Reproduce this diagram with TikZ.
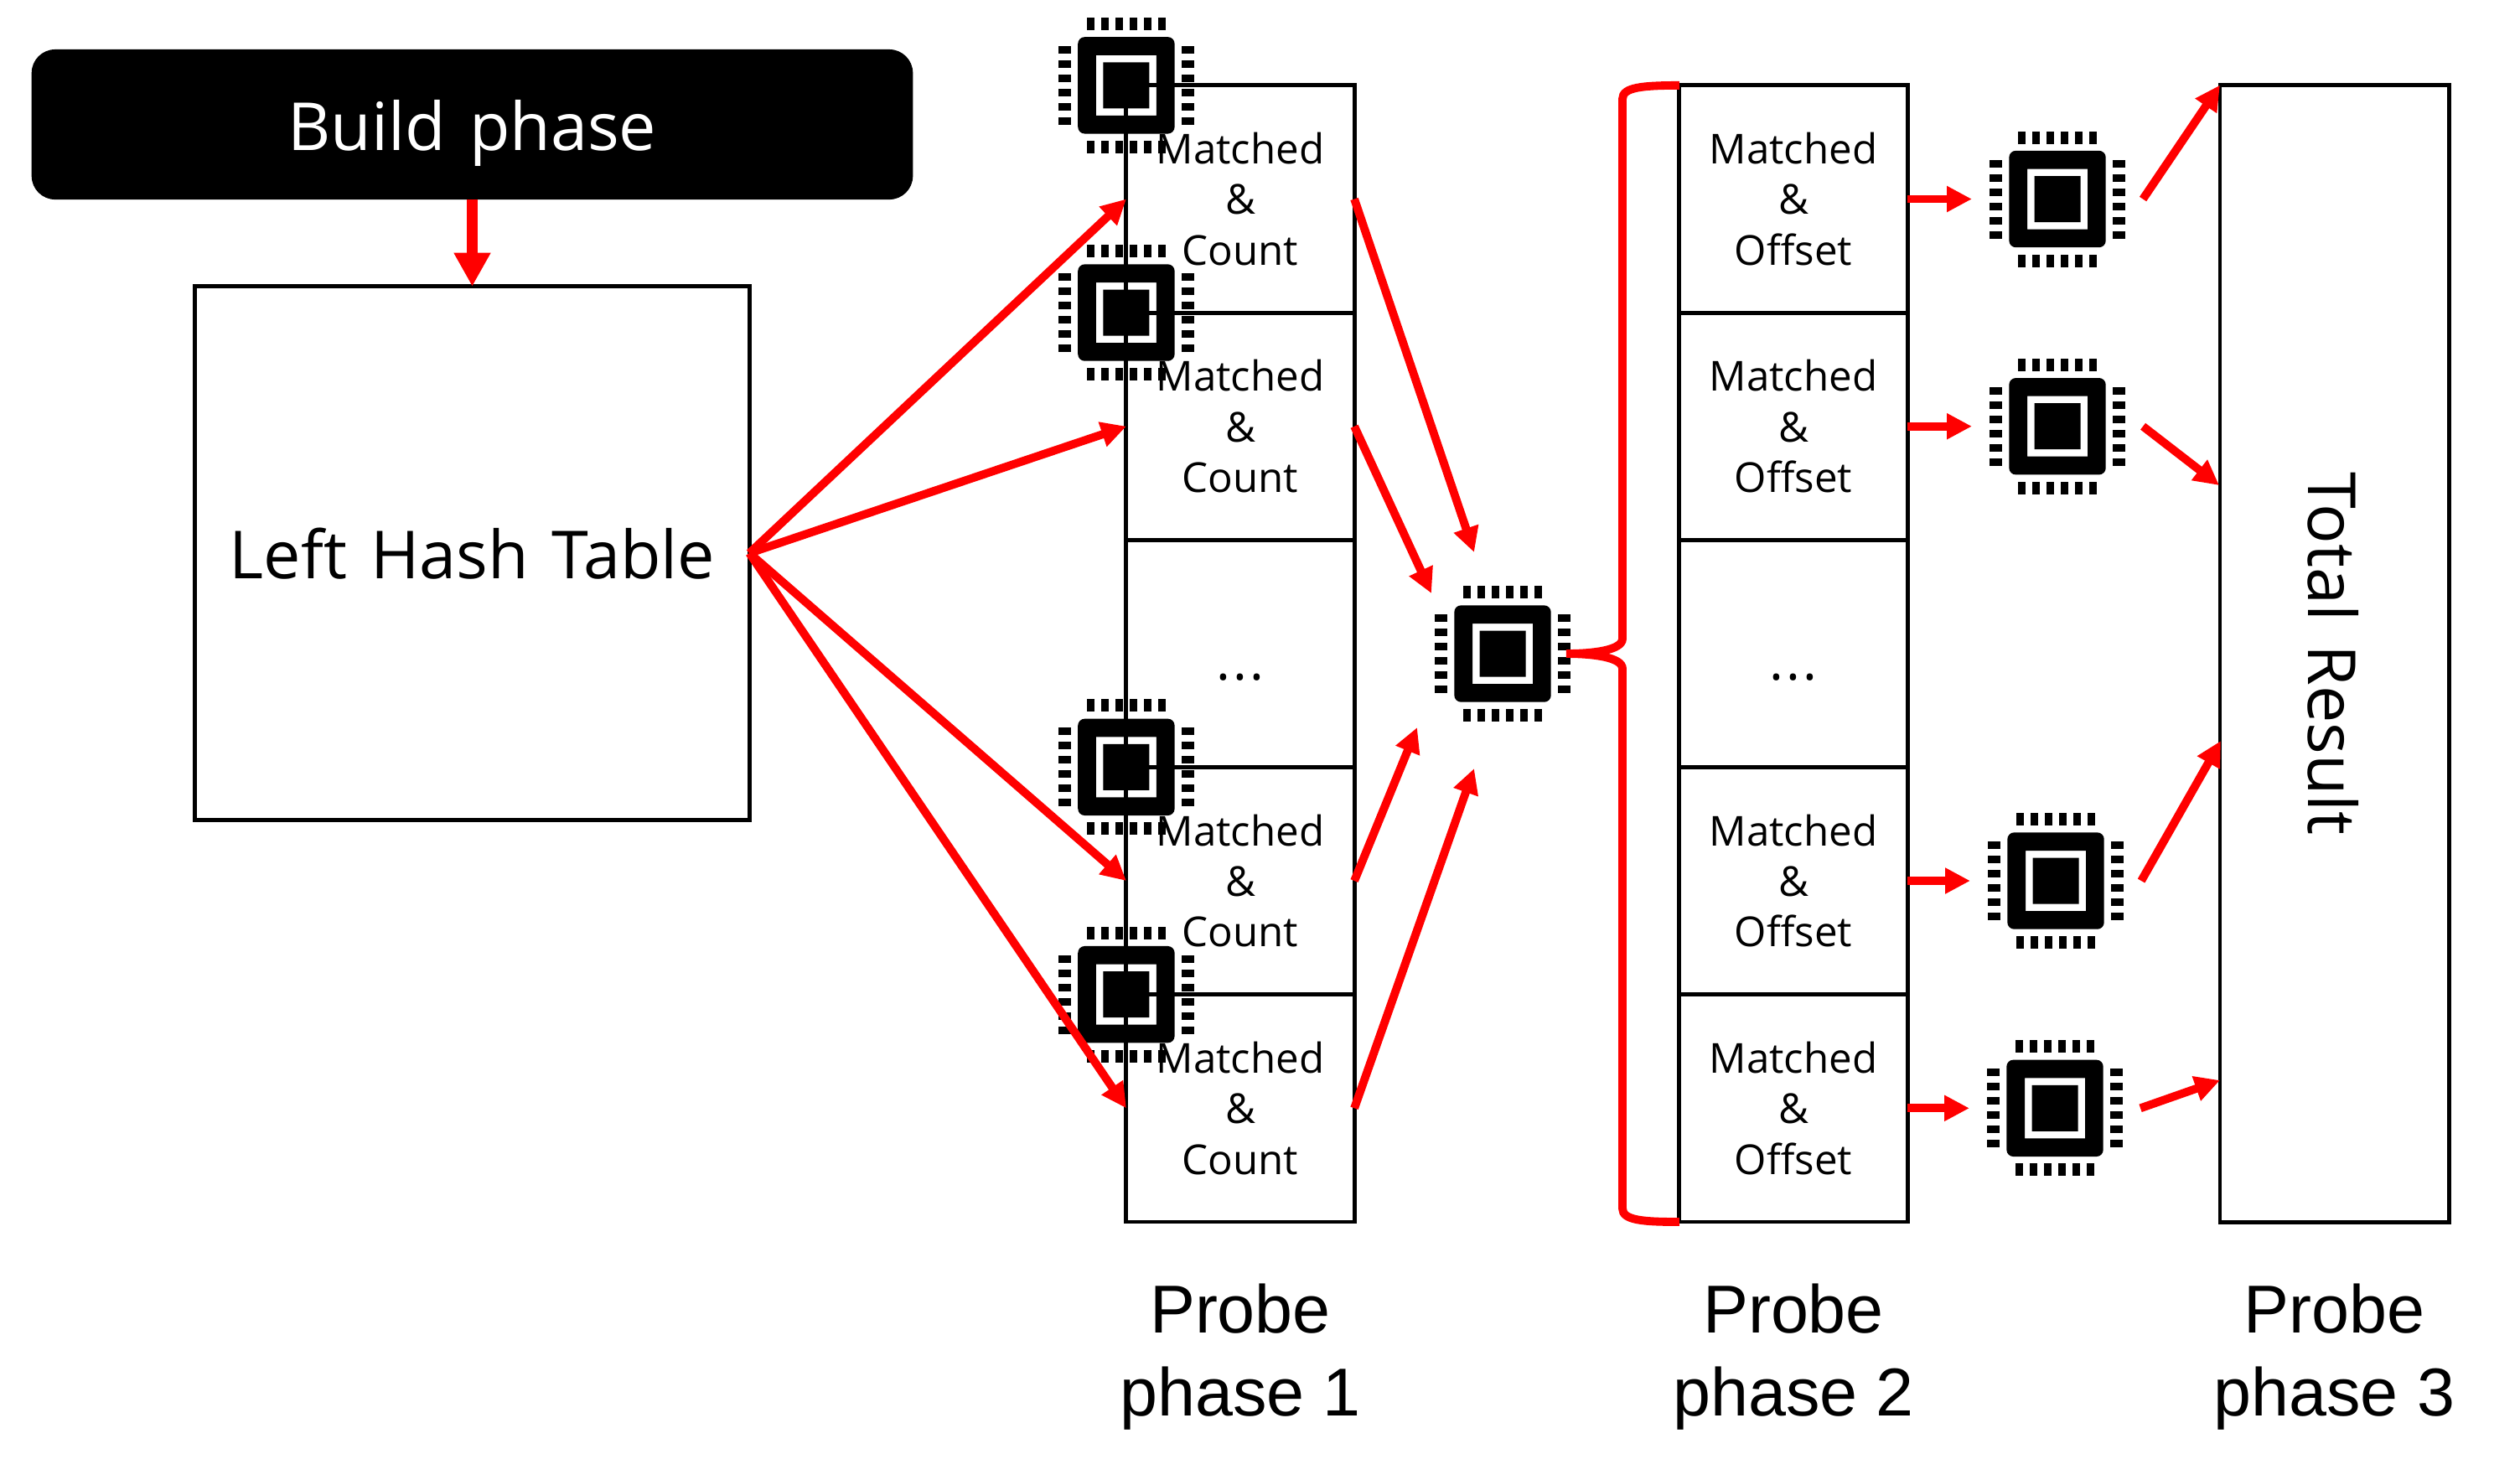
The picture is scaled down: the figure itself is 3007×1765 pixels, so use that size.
\documentclass[tikz,border=0pt]{standalone}
\usepackage{fontspec}
\setmainfont{Open Sans}
\newfontfamily\phasefont{Liberation Sans}
\usetikzlibrary{arrows.meta, positioning}

\tikzset{
    cellbox/.style={draw, line width=1.4pt, inner sep=0pt, outer sep=0pt, minimum width=2.72cm, minimum height=2.712cm, align=center, font=\fontsize{14pt}{17.2pt}\selectfont},
    dotsbox/.style={cellbox, text height=18pt, font=\fontsize{18pt}{18pt}\selectfont},
    bigbox/.style={line width=1.4pt, inner sep=0pt, outer sep=0pt, align=center, font=\bigfont, text height=20pt, text depth=2.4pt},
    phaselabel/.style={inner sep=0pt, align=center, font=\phasefont\fontsize{23pt}{28.2pt}\selectfont},
    chipnode/.style={inner sep=0pt, outer sep=0pt, minimum size=2.04cm},
    redarrow/.style={draw=red, line width=2.8pt, -{Triangle[length=8.5pt,width=8.3pt]}},
    cpu/.pic={
        \fill[even odd rule] [rounded corners=2.3pt] (-57.7,-57.7) rectangle (57.7,57.7)
            [sharp corners] (-36,-36) rectangle (36,36) (-27.5,-27.5) rectangle (27.5,27.5);
        \foreach \p in {-42.5,-25.5,-8.5,8.5,25.5,42.5} {
            \fill (\p-4.5,-81) rectangle (\p+4.5,-66);
            \fill (\p-4.5,66) rectangle (\p+4.5,81);
            \fill (-81,\p-4.5) rectangle (-66,\p+4.5);
            \fill (66,\p-4.5) rectangle (81,\p+4.5);
        }
    }
}
\newcommand{\bigfont}{\fontsize{22.5pt}{28pt}\selectfont\fontdimen2\font=8pt\relax}

\begin{document}
\begin{tikzpicture}[x=0.01cm,y=-0.01cm]
        \useasboundingbox (0,0) rectangle (3007,1765);

        % Build phase and hash table
        \node[bigbox,fill=black,text=white,rounded corners=8pt,minimum width=10.51cm,minimum height=1.79cm] (build) at (563.5,148.5) {Build phase};
        \node[bigbox,draw,minimum width=6.61cm,minimum height=6.36cm] (table) at (563.5,660) {Left Hash Table};

        % Phase 1 and phase 2 columns
        \foreach \n/\y in {1/237.5,2/508.7,4/1051,5/1322.3} {
            \node[cellbox] (m\n) at (1480,\y) {Matched\\\&\\Count};
            \node[cellbox] (o\n) at (2140,\y) {Matched\\\&\\Offset};
        }
        \node[dotsbox] (m3) at (1480,780) {.\kern1pt.\kern1pt.};
        \node[dotsbox] (o3) at (2140,780) {.\kern1pt.\kern1pt.};

        % Phase 3 column
        \node[draw,line width=1.4pt,inner sep=0pt,outer sep=0pt,minimum width=2.73cm,minimum height=13.56cm] (total) at (2785.5,780) {};
        \node[bigbox,rotate=-90] (totaltext) at (total.center) {Total Result};

        % Column captions
        \node[phaselabel] (cap1) at (1480,1619) {Probe\\phase 1};
        \node[phaselabel] (cap2) at (2140,1619) {Probe\\phase 2};
        \node[phaselabel] (cap3) at (2785.5,1619) {Probe\\phase 3};

        % Chips
        \foreach \n in {1,2,4,5} {
            \node[chipnode] (pc\n) at (m\n.north west) {};
            \pic at (pc\n) {cpu};
        }
        \node[chipnode] (cc) at (1793,780) {};
        \pic at (cc) {cpu};
        \foreach \n/\x in {1/2455,2/2455,4/2453,5/2452} {
            \node[chipnode] (rc\n) at (\x,0 |- o\n.center) {};
            \pic at (rc\n) {cpu};
        }

        % Free arrow ends
        \coordinate (cin1) at (1759,659);
        \coordinate (cin2) at (1708,708);
        \coordinate (cin4) at (1691,868);
        \coordinate (cin5) at (1759,917);
        \coordinate (tin2) at (2648,579);
        \coordinate (tin4) at (2650,884);
        \coordinate (tin5) at (2649,1289);
        \coordinate (bracetip) at (1869,780);

        % Red arrows
        \draw[draw=red,line width=3.7pt,-{Triangle[length=11.4pt,width=11.7pt]}] (build.south) -- (table.north);
        \foreach \n in {1,2,4,5} {
            \draw[redarrow] (table.east) -- (m\n.west);
            \draw[redarrow] (m\n.east) -- (cin\n);
            \draw[redarrow] (o\n.east) -- (rc\n.west);
        }
        \draw[redarrow] (rc1.east) -- (total.north west);
        \draw[redarrow] (rc2.east) -- (tin2);
        \draw[redarrow] (rc4.east) -- (tin4);
        \draw[redarrow] (rc5.east) -- (tin5);

        % Brace
        \draw[red,line width=2.8pt] (o1.north west) .. controls (1960,102) and (1936,104) .. (1936,118) -- (1936,762)
            .. controls (1936,776) and (1900,780) .. (bracetip)
            .. controls (1900,780) and (1936,784) .. (1936,798) -- (1936,1442)
            .. controls (1936,1456) and (1960,1458) .. (o5.south west);
\end{tikzpicture}
\end{document}
